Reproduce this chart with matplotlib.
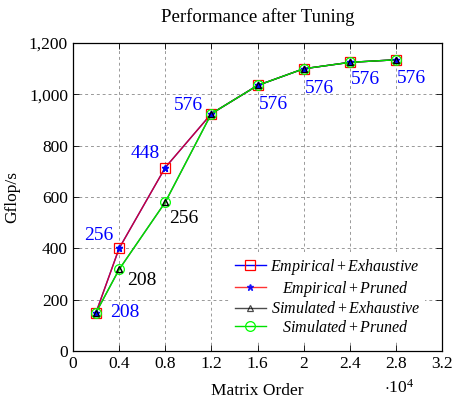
import matplotlib
matplotlib.use("Agg")
import matplotlib.pyplot as plt
from matplotlib.ticker import FuncFormatter, MultipleLocator

plt.rcParams['font.family'] = ['Liberation Serif', 'DejaVu Serif']
plt.rcParams['mathtext.fontset'] = 'custom'
plt.rcParams['mathtext.rm'] = 'Liberation Serif'
plt.rcParams['mathtext.it'] = 'Liberation Serif:italic'

matrix_order = [2000, 4000, 8000, 12000, 16000, 20000, 24000, 28000]
emp_exh = [150, 400, 715, 925, 1035, 1100, 1125, 1135]
emp_pru = [150, 400, 715, 925, 1035, 1100, 1125, 1135]
sim_exh = [150, 318, 580, 925, 1035, 1100, 1125, 1135]
sim_pru = [150, 318, 580, 925, 1035, 1100, 1125, 1135]
emp_labels = ['208', '256', '448', '576', '576', '576', '576', '576']
sim_labels = {1: '208', 2: '256'}

fig = plt.figure(figsize=(4.53, 3.99), dpi=100)
ax = fig.add_axes([0.161, 0.120, 0.815, 0.772])

ax.plot(matrix_order, emp_exh, color='blue', lw=1.0, marker='s', ms=7,
        mfc='none', mec='red', mew=0.9, label=r'$\mathit{Empirical} + \mathit{Exhaustive}$', zorder=3)
ax.plot(matrix_order, emp_pru, color='red', alpha=0.8, lw=1.0, marker='*', ms=5,
        mfc='blue', mec='blue', label=r'$\mathit{Empirical} + \mathit{Pruned}$', zorder=4)
ax.plot(matrix_order, sim_exh, color='black', alpha=0.7, lw=1.0, marker='^', ms=4.5,
        mfc='none', mec='black', mew=0.9, label=r'$\mathit{Simulated} + \mathit{Exhaustive}$', zorder=5)
ax.plot(matrix_order, sim_pru, color='#00e000', lw=1.0, marker='o', ms=7,
        mfc='none', mec='#00ff00', mew=0.9, label=r'$\mathit{Simulated} + \mathit{Pruned}$', zorder=6)
ax.plot(matrix_order, emp_pru, ls='none', marker='*', ms=5, mfc='blue', mec='blue', zorder=7)
ax.plot(matrix_order, sim_exh, ls='none', marker='^', ms=4.5, mfc='none', mec='black', mew=0.9, zorder=8)

emp_offsets = [(10, 0, 'left'), (-4, 9, 'right'), (-4, 10, 'right'), (-6, 6, 'right'),
               (1, -13.5, 'left'), (1, -14, 'left'), (1, -12.5, 'left'), (1, -13.5, 'left')]
for x, y, lab, (dx, dy, ha) in zip(matrix_order, emp_pru, emp_labels, emp_offsets):
    ax.annotate(lab, (x, y), xytext=(dx, dy), textcoords='offset points',
                color='blue', fontsize=14, ha=ha, va='center', zorder=10)
sim_offsets = {1: (6, -8), 2: (3, -12)}
for i, lab in sim_labels.items():
    dx, dy = sim_offsets[i]
    ax.annotate(lab, (matrix_order[i], sim_exh[i]), xytext=(dx, dy), textcoords='offset points',
                color='black', fontsize=14, ha='left', va='center', zorder=10)

ax.set_xlim(0, 32000)
ax.set_ylim(0, 1200)
ax.xaxis.set_major_locator(MultipleLocator(4000))
ax.yaxis.set_major_locator(MultipleLocator(200))
ax.xaxis.set_major_formatter(FuncFormatter(lambda v, p: ('%g' % (v / 1e4))))
ax.yaxis.set_major_formatter(FuncFormatter(lambda v, p: '{:,.0f}'.format(v)))
ax.tick_params(direction='in', top=True, right=True, labelsize=12.5, length=4, width=0.6)
ax.grid(True, ls=(0, (3, 3)), color='#999999', lw=0.7)
for s in ax.spines.values():
    s.set_linewidth(0.9)

ax.set_title('Performance after Tuning', fontsize=13.5, pad=15)
ax.set_xlabel('Matrix Order', fontsize=12.5, labelpad=8)
ax.set_ylabel('Gflop/s', fontsize=12.5, labelpad=6)
ax.text(0.925, -0.12, r'$\cdot 10^4$', transform=ax.transAxes, fontsize=12.5, ha='right', va='center')

leg = ax.legend(loc='lower right', fontsize=11.5, frameon=True, framealpha=1.0,
                edgecolor='none', fancybox=False, handlelength=1.95, borderpad=0.3,
                labelspacing=0.15, handletextpad=0.3, bbox_to_anchor=(0.975, 0.008))
leg.set_zorder(20)

# center legend labels horizontally (as in the reference)
fig.canvas.draw()
texts = leg.get_texts()
widths = [t.get_window_extent().width for t in texts]
mw = max(widths)
for t, w in zip(texts, widths):
    t.set_x((mw - w) / 2)

fig.savefig('out.png', dpi=100)
